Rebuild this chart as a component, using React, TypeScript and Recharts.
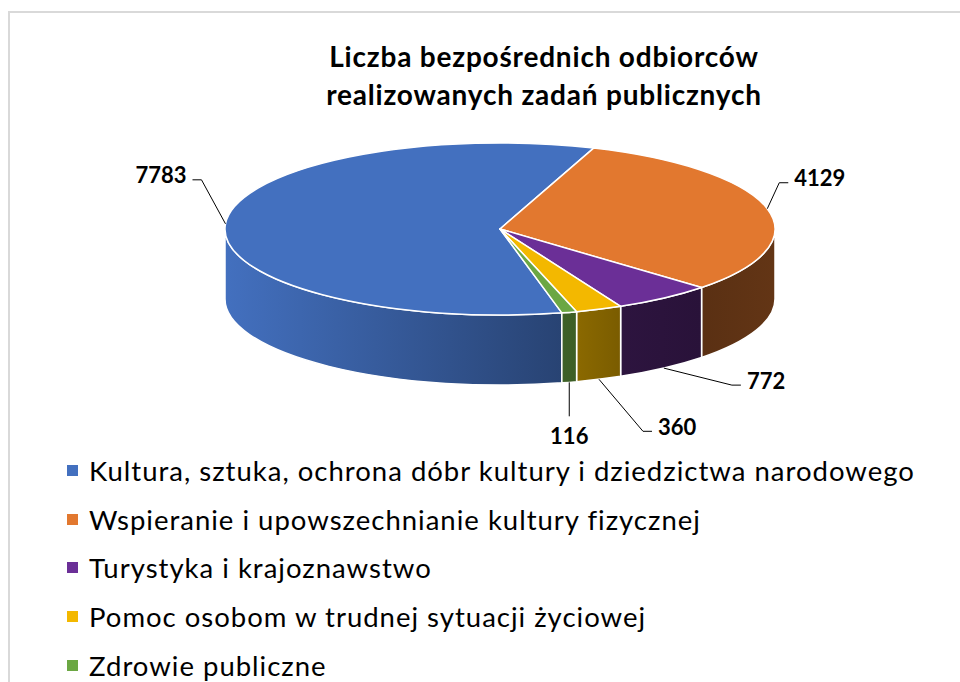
import { PieChart, Pie, Cell, Legend } from 'recharts';

const CATEGORIES = [
  'Kultura, sztuka, ochrona dóbr kultury i dziedzictwa narodowego',
  'Wspieranie i upowszechnianie kultury fizycznej',
  'Turystyka i krajoznawstwo',
  'Pomoc osobom w trudnej sytuacji życiowej',
  'Zdrowie publiczne',
];
const VALUES = [7783, 4129, 772, 360, 116];
const COLORS = ['#4370bf', '#e2782f', '#6b2f97', '#f3b800', '#6ba743'];
// brightness of the side wall, left -> right
const SIDE_SHADE = [
  [1.0, 0.6],
  [0.4, 0.44],
  [0.42, 0.38],
  [0.57, 0.5],
  [0.58, 0.56],
];
// leader line: offset of the elbow from the anchor point
const LEADERS = [
  [-24, -44],
  [12, -26],
  [68, 17],
  [44, 52],
  [0, 34],
];

const data = CATEGORIES.map((name, i) => ({ name, value: VALUES[i], idx: i }));

const RAD = Math.PI / 180;
const TILT = 0.313;
const DEPTH = 70;
const FONT = 'Lato, "Open Sans", sans-serif';

function shade(hex: string, f: number) {
  const n = parseInt(hex.slice(1), 16);
  const r = Math.round(((n >> 16) & 255) * f);
  const g = Math.round(((n >> 8) & 255) * f);
  const b = Math.round((n & 255) * f);
  return `rgb(${r},${g},${b})`;
}

function sliceIndex(props: any): number {
  if (props.payload && typeof props.payload.idx === 'number') return props.payload.idx;
  const byName = CATEGORIES.indexOf(props.name);
  if (byName >= 0) return byName;
  return Math.max(0, COLORS.indexOf(props.fill));
}

function Slice3D(props: any) {
  const { cx, cy, outerRadius, startAngle, endAngle } = props;
  const i = sliceIndex(props);
  const rx = outerRadius;
  const ry = rx * TILT;
  const pt = (a: number, dy = 0) => [cx + rx * Math.cos(a * RAD), cy - ry * Math.sin(a * RAD) + dy];

  const hi = Math.max(startAngle, endAngle);
  const lo = Math.min(startAngle, endAngle);

  // parts of the rim that face the viewer (angle with negative sine)
  const sides: string[] = [];
  for (let k = -1; k <= 2; k++) {
    const a1 = Math.min(hi, -360 * k);
    const a2 = Math.max(lo, -180 - 360 * k);
    if (a1 > a2) {
      const [x1, y1] = pt(a1);
      const [x2, y2] = pt(a2);
      sides.push(
        `M${x1},${y1} A${rx},${ry} 0 0 1 ${x2},${y2} L${x2},${y2 + DEPTH} A${rx},${ry} 0 0 0 ${x1},${y1 + DEPTH} Z`
      );
    }
  }

  const [sx, sy] = pt(hi);
  const [ex, ey] = pt(lo);
  const large = hi - lo > 180 ? 1 : 0;
  const top = `M${cx},${cy} L${sx},${sy} A${rx},${ry} 0 ${large} 1 ${ex},${ey} Z`;
  const gid = `side-grad-${i}`;
  const color = COLORS[i];

  return (
    <g>
      <defs>
        <linearGradient id={gid} x1="0" y1="0" x2="1" y2="0">
          <stop offset="0%" stopColor={shade(color, SIDE_SHADE[i][0])} />
          <stop offset="100%" stopColor={shade(color, SIDE_SHADE[i][1])} />
        </linearGradient>
      </defs>
      {sides.map((d, j) => (
        <path key={j} d={d} fill={`url(#${gid})`} stroke="#ffffff" strokeWidth={1.5} strokeLinejoin="round" />
      ))}
      <path d={top} fill={color} stroke="#ffffff" strokeWidth={1.5} strokeLinejoin="round" />
    </g>
  );
}

function renderLabel(props: any) {
  const { cx, cy, midAngle, outerRadius, value } = props;
  const i = sliceIndex(props);
  const rx = outerRadius;
  const ry = rx * TILT;
  const s = Math.sin(midAngle * RAD);
  const ax = cx + rx * Math.cos(midAngle * RAD);
  const ay = cy - ry * s + (s < 0 ? DEPTH : 0);
  const [dx, dy] = LEADERS[i];
  const bx = ax + dx;
  const by = ay + dy;
  const dir = dx < 0 ? -1 : dx > 0 ? 1 : 0;
  const tx = bx + dir * 9;

  return (
    <g key={`lbl-${i}`}>
      <polyline
        points={`${ax},${ay} ${bx},${by} ${tx},${by}`}
        fill="none"
        stroke="#000000"
        strokeWidth={1}
      />
      <text
        x={dir === 0 ? bx : tx + dir * 6}
        y={dir === 0 ? by + 19 : by - 5}
        textAnchor={dir < 0 ? 'end' : dir > 0 ? 'start' : 'middle'}
        dominantBaseline="central"
        fontFamily={FONT}
        fontWeight={700}
        fontSize={22}
        fill="#000000"
      >
        {value}
      </text>
    </g>
  );
}

function LegendList({ payload }: any) {
  const items = (payload && payload.length ? [...payload] : CATEGORIES.map((c, i) => ({ value: c, color: COLORS[i] })))
    .sort((a: any, b: any) => CATEGORIES.indexOf(a.value) - CATEGORIES.indexOf(b.value));
  return (
    <div style={{ fontFamily: FONT, fontSize: 27.5, letterSpacing: 1, color: '#000', textAlign: 'left' }}>
      {items.map((entry: any, i: number) => (
        <div key={i} style={{ display: 'flex', alignItems: 'center', height: 48.8 }}>
          <span style={{ width: 11, height: 11, background: entry.color, marginRight: 11, flex: 'none' }} />
          <span style={{ whiteSpace: 'nowrap' }}>{entry.value}</span>
        </div>
      ))}
    </div>
  );
}

export default function App() {
  return (
    <div
      style={{
        position: 'absolute',
        left: 0,
        top: 0,
        width: 960,
        height: 682,
        overflow: 'hidden',
        background: '#ffffff',
      }}
    >
      <div
        style={{
          position: 'absolute',
          left: 8,
          top: 11,
          width: 1000,
          height: 1000,
          border: '2px solid #d9d9d9',
        }}
      />
      <div
        style={{
          position: 'absolute',
          left: 0,
          top: 37,
          width: 1088,
          textAlign: 'center',
          fontFamily: FONT,
          fontWeight: 700,
          fontSize: 28,
          letterSpacing: 0.8,
          lineHeight: '38px',
          color: '#000',
        }}
      >
        Liczba bezpośrednich odbiorców
        <br />
        realizowanych zadań publicznych
      </div>
      <div style={{ position: 'absolute', left: 0, top: 0 }}>
        <PieChart width={960} height={682} margin={{ top: 0, right: 0, bottom: 0, left: 0 }}>
          <Pie
            data={data}
            dataKey="value"
            nameKey="name"
            cx={500}
            cy={229}
            outerRadius={275}
            startAngle={-77}
            endAngle={-437}
            stroke="none"
            shape={Slice3D}
            label={renderLabel}
            labelLine={false}
            isAnimationActive={false}
          >
            {data.map((d) => (
              <Cell key={d.name} fill={COLORS[d.idx]} />
            ))}
          </Pie>
          <Legend
            layout="horizontal"
            verticalAlign="bottom"
            align="left"
            content={<LegendList />}
            wrapperStyle={{ left: 67, top: 446, bottom: 'auto', width: 890 }}
          />
        </PieChart>
      </div>
    </div>
  );
}
